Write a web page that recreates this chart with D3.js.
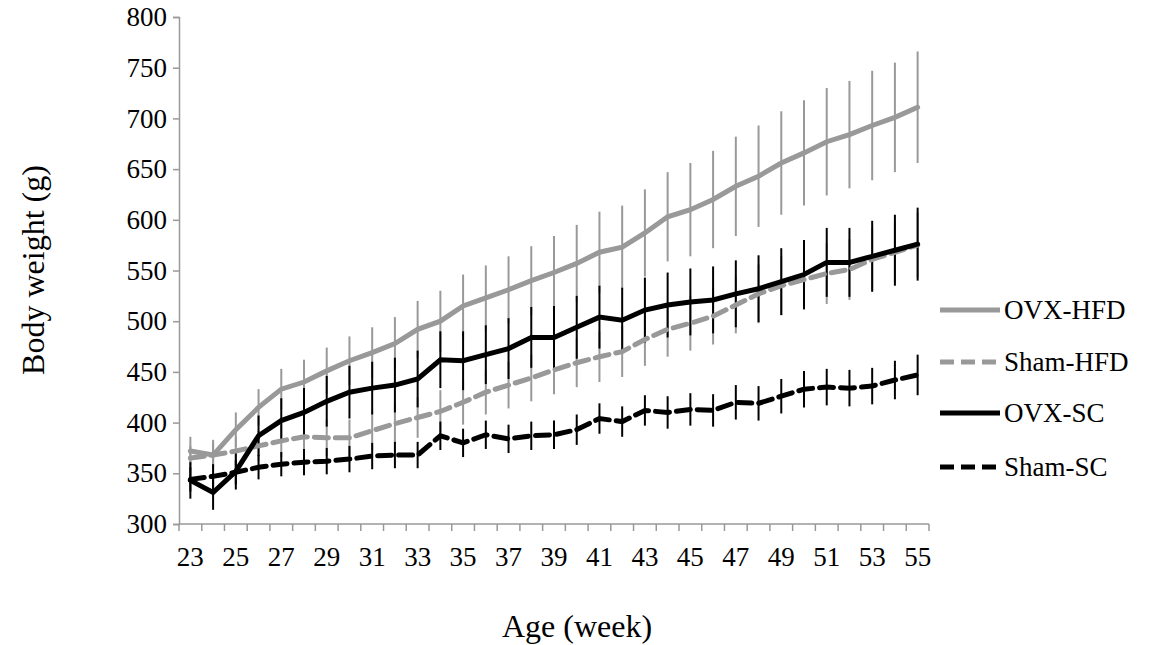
<!DOCTYPE html><html><head><script src="https://cdn.jsdelivr.net/npm/d3@7"></script>
<style>body{margin:0;background:#fff}text{font-family:"Liberation Serif","Times New Roman",serif}</style></head><body>
<svg id="c" width="1167" height="645"></svg>
<script>
const weeks=d3.range(23,56);
const ovxHFD=[372,368,393,415,433,440,451,461,469,478,492,500,515,523,531,540,548,557,568,573,587,603,610,620,633,643,656,666,677,684,693,701,711];
const ovxHFDerr=[14,15,17,18,20,22,23,24,25,26,28,30,31,32,33,34,36,38,40,41,43,44,46,48,49,50,51,52,53,53,54,54,55];
const shamHFD=[365,368,372,377,382,386,385,385,392,399,405,411,420,430,437,444,452,459,465,470,482,492,498,505,516,527,535,541,547,551,561,568,575];
const shamHFDerr=[12,12,14,15,16,17,18,18,19,20,20,21,22,22,23,23,24,24,25,25,26,27,27,28,28,29,29,30,30,30,31,31,32];
const ovxSC=[343,331,352,387,402,410,421,430,434,437,443,462,461,467,473,484,484,494,504,501,511,516,519,521,527,532,539,546,558,558,564,570,576];
const ovxSCerr=[18,17,18,20,22,24,25,26,26,27,28,28,29,29,30,30,31,31,31,32,32,32,33,33,33,33,33,34,34,34,35,35,36];
const shamSC=[344,347,351,356,359,361,362,364,367,368,368,387,380,388,384,387,388,393,404,401,412,410,413,412,420,419,426,433,435,434,436,442,447];
const shamSCerr=[12,12,12,12,12,13,13,13,13,13,13,14,14,14,14,14,14,15,15,15,15,16,16,16,17,17,17,18,18,18,18,19,20];
const yTicks=d3.range(300,801,50);
const series=[
 {name:"OVX-HFD",v:ovxHFD,e:ovxHFDerr,c:"#999",dash:null,ec:"#999",ew:2},
 {name:"Sham-HFD",v:shamHFD,e:shamHFDerr,c:"#999",dash:"14,7",ec:"#999",ew:2},
 {name:"OVX-SC",v:ovxSC,e:ovxSCerr,c:"#000",dash:null,ec:"#000",ew:2},
 {name:"Sham-SC",v:shamSC,e:shamSCerr,c:"#000",dash:"14,7",ec:"#000",ew:2}];
const svg=d3.select("#c");
const L=179,R=929,T=17,B=524;
const x=d3.scaleBand().domain(weeks).range([L,R]);
const y=d3.scaleLinear().domain([300,800]).range([B,T]);
const cx=w=>x(w)+x.bandwidth()/2;
const ya=svg.append("g").attr("transform",`translate(${L},0)`).call(d3.axisLeft(y).tickValues(yTicks).tickSize(6).tickPadding(6));
ya.selectAll("text").style("font-size","27px").attr("fill","#000").attr("font-family","Liberation Serif");
ya.selectAll("line,path").attr("stroke","#999").attr("stroke-width",1.5);
const xa=svg.append("g").attr("transform",`translate(0,${B})`);
xa.append("line").attr("x1",L).attr("x2",R).attr("stroke","#999").attr("stroke-width",1.5);
xa.selectAll("line.t").data(weeks.concat([56])).join("line").attr("x1",(d,i)=>L+i*x.step()).attr("x2",(d,i)=>L+i*x.step()).attr("y1",0).attr("y2",7).attr("stroke","#999").attr("stroke-width",1.5);
xa.selectAll("text").data(weeks.filter(w=>w%2==1)).join("text").attr("x",cx).attr("y",42).attr("text-anchor","middle").style("font-size","27px").text(d=>d);
series.forEach(s=>{
 svg.append("g").selectAll("line").data(weeks).join("line")
  .attr("x1",(w)=>cx(w)).attr("x2",w=>cx(w))
  .attr("y1",(w,i)=>y(s.v[i]-s.e[i])).attr("y2",(w,i)=>y(s.v[i]+s.e[i]))
  .attr("stroke",s.ec).attr("stroke-width",s.ew);
});
const line=d3.line().x((d,i)=>cx(weeks[i])).y(d=>y(d));
series.forEach(s=>{
 svg.append("path").attr("d",line(s.v)).attr("fill","none").attr("stroke",s.c).attr("stroke-width",5).attr("stroke-dasharray",s.dash).attr("stroke-linecap","round");
});
const ly=[310,362,413,467];
series.forEach((s,i)=>{
 svg.append("line").attr("x1",940).attr("x2",1000).attr("y1",ly[i]).attr("y2",ly[i]).attr("stroke",s.c).attr("stroke-width",5).attr("stroke-dasharray",s.dash?"14,7":null);
 svg.append("text").attr("x",1004).attr("y",ly[i]+9).style("font-size","27px").text(s.name);
});
svg.append("text").attr("x",577).attr("y",637).attr("text-anchor","middle").style("font-size","32px").text("Age (week)");
svg.append("text").attr("transform","translate(44,270) rotate(-90)").attr("text-anchor","middle").style("font-size","32px").text("Body weight (g)");
</script></body></html>
